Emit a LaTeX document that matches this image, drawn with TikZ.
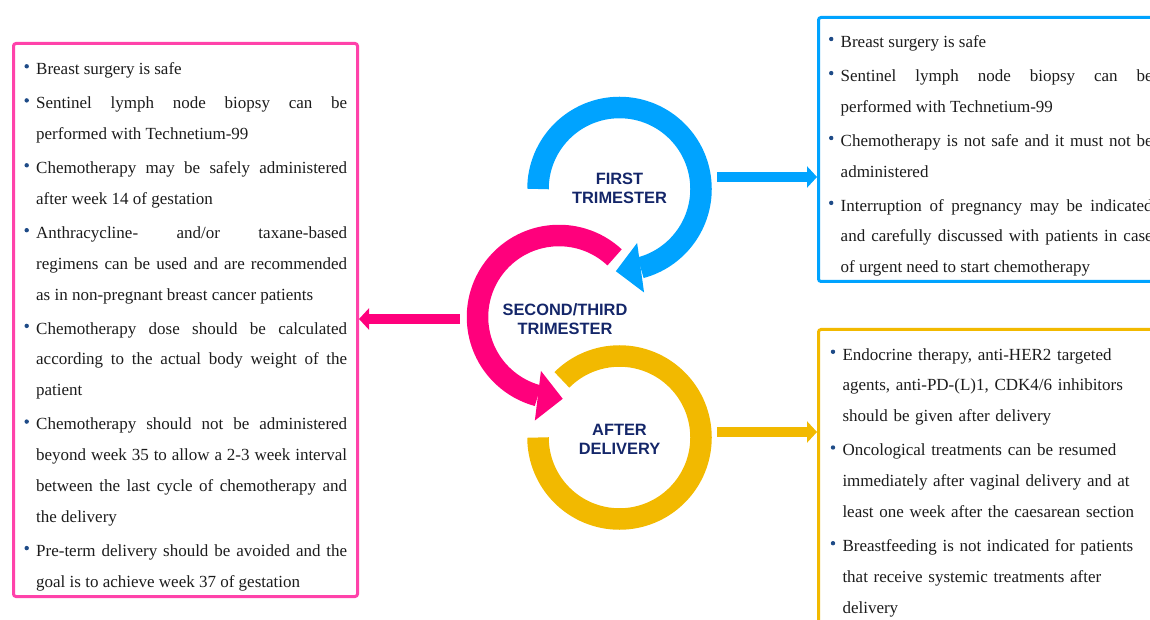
\documentclass[tikz,border=0pt]{standalone}
\usepackage{fontspec}
\setmainfont{Liberation Serif}
\newfontfamily\labelfont{Liberation Sans}
\usetikzlibrary{arrows.meta}
\definecolor{ringblue}{RGB}{0,163,255}
\definecolor{ringpink}{RGB}{255,0,124}
\definecolor{ringyellow}{RGB}{242,185,0}
\definecolor{boxpink}{RGB}{255,66,170}
\definecolor{navy}{RGB}{20,38,105}
\definecolor{bulletc}{RGB}{30,75,135}
\definecolor{bodyc}{RGB}{28,28,28}
\newcommand\mybul{\llap{\tikz[baseline=0pt]\fill[bulletc] (0pt,8.3pt) circle[radius=2.2pt];\hspace{7.3pt}}}
\newcommand\itm{\par\noindent\mybul}
\hbadness=10000
\hfuzz=20pt
\begin{document}
\begin{tikzpicture}[x=1pt,y=1pt,
  ringline/.style={line width=21.5pt, line cap=butt},
  boxframe/.style={draw, line width=3pt, rounded corners=2.5pt, inner sep=0pt, fill=none},
  bodytext/.style={inner sep=0pt, anchor=north west, text=bodyc,
    font=\fontsize{17}{30.8}\selectfont},
  ringlabel/.style={inner sep=0pt, align=center, text=navy,
    font=\labelfont\bfseries\fontsize{16.4}{18.3}\selectfont},
  conn/.style={line width=10pt, -{Triangle[width=21pt,length=10pt]}}
]
\useasboundingbox (0,0) rectangle (1150,619);
\clip (0,0) rectangle (1150,619);

% ---- boxes ----
\node[boxframe, draw=boxpink, minimum width=344pt, minimum height=553pt] (boxL) at (185.5,299) {};
\node[boxframe, draw=ringblue, minimum width=351.5pt, minimum height=264pt] (boxB) at (994.25,469.5) {};
\node[boxframe, draw=ringyellow, minimum width=351.5pt, minimum height=310.5pt] (boxY) at (994.25,134.25) {};

% ---- rings ----
\begin{scope}[shift={(619.5,430)}]
  \draw[ringline, ringblue] (180:81.5) arc[start angle=180, end angle=-75, radius=81.5];
  \fill[ringblue]
    ({81.5*cos(-75)+25*cos(-82)},{81.5*sin(-75)+25*sin(-82)}) --
    ({81.5*cos(-75)+25*cos(-172)},{81.5*sin(-75)+25*sin(-172)}) --
    ({81.5*cos(-75)-25*cos(-82)},{81.5*sin(-75)-25*sin(-82)}) -- cycle;
\end{scope}
\begin{scope}[shift={(559,302)}]
  \draw[ringline, ringpink] (47:81.5) arc[start angle=47, end angle=255, radius=81.5];
  \fill[ringpink]
    ({81.5*cos(255)+25*cos(83)},{81.5*sin(255)+25*sin(83)}) --
    ({81.5*cos(255)+25*cos(-7)},{81.5*sin(255)+25*sin(-7)}) --
    ({81.5*cos(255)-25*cos(83)},{81.5*sin(255)-25*sin(83)}) -- cycle;
\end{scope}
\begin{scope}[shift={(619.5,181.5)}]
  \draw[ringline, ringyellow] (135:81.5) arc[start angle=135, end angle=-180, radius=81.5];
\end{scope}

% ---- ring labels ----
\node[ringlabel] (first) at (619.5,430.7) {FIRST\\TRIMESTER};
\node[ringlabel] (second) at (565,300) {SECOND/THIRD\\TRIMESTER};
\node[ringlabel] (after) at (619.5,179.5) {AFTER\\DELIVERY};

% ---- connectors ----
\coordinate (bstart) at (717,442);
\coordinate (pstart) at (460,300);
\coordinate (ystart) at (717,187);
\draw[conn, ringblue] (bstart) -- (bstart -| boxB.west);
\draw[conn, ringpink] (pstart) -- (pstart -| boxL.east);
\draw[conn, ringyellow] (ystart) -- (ystart -| boxY.west);

% ---- texts ----
\node[bodytext, text width=311pt, align=justify] (tL) at (36,578.7) {%
\setlength\parindent{0pt}\setlength\parskip{3.3pt}%
\itm\rule{0pt}{12pt}Breast surgery is safe
\itm Sentinel lymph node biopsy can be\linebreak performed with Technetium-99
\itm Chemotherapy may be safely administered\linebreak after week 14 of gestation
\itm Anthracycline- and/or taxane-based\linebreak regimens can be used and are recommended\linebreak as in non-pregnant breast cancer patients
\itm Chemotherapy dose should be calculated\linebreak according to the actual body weight of the\linebreak patient
\itm Chemotherapy should not be administered\linebreak beyond week 35 to allow a 2-3 week interval\linebreak between the last cycle of chemotherapy and\linebreak the delivery
\itm Pre-term delivery should be avoided and the\linebreak goal is to achieve week 37 of gestation\par};

\node[bodytext, text width=312pt, align=justify] (tB) at (840.5,606) {%
\setlength\parindent{0pt}\setlength\parskip{3.3pt}%
\itm\rule{0pt}{12pt}Breast surgery is safe
\itm Sentinel lymph node biopsy can be\linebreak performed with Technetium-99
\itm Chemotherapy is not safe and it must not be\linebreak administered
\itm Interruption of pregnancy may be indicated\linebreak and carefully discussed with patients in case\linebreak of urgent need to start chemotherapy\par};

\node[bodytext, text width=305pt, align=left] (tY) at (842.3,293.2) {%
\setlength\parindent{0pt}\setlength\parskip{3.3pt}%
\itm\rule{0pt}{12pt}Endocrine therapy, anti-HER2 targeted\newline agents, anti-PD-(L)1, CDK4/6 inhibitors\newline should be given after delivery
\itm Oncological treatments can be resumed\newline immediately after vaginal delivery and at\newline least one week after the caesarean section
\itm Breastfeeding is not indicated for patients\newline that receive systemic treatments after\newline delivery\par};
\end{tikzpicture}
\end{document}
